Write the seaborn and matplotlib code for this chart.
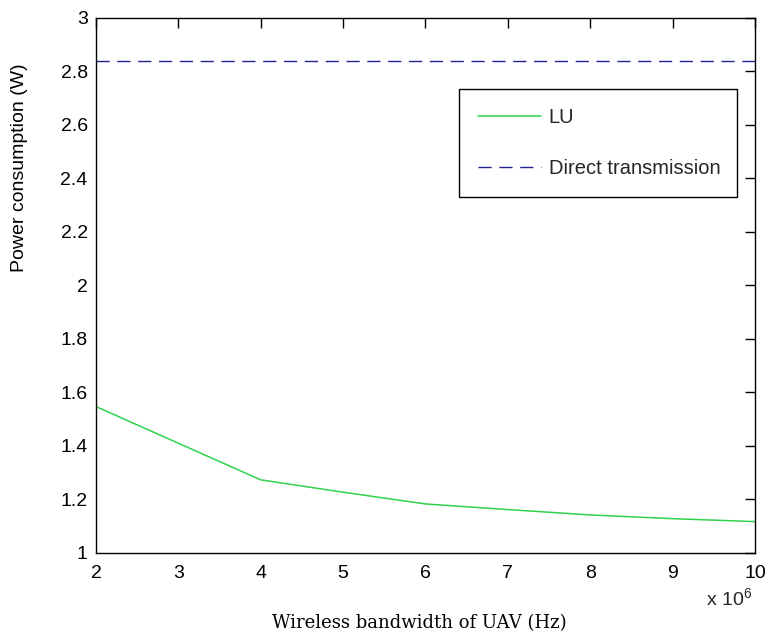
"""
Power consumption versus the UAV wireless bandwidth, LU against
direct transmission, in the old MATLAB figure look.
"""
import matplotlib

matplotlib.use("Agg")
import matplotlib.pyplot as plt
import pandas as pd
import seaborn as sns
from matplotlib.ticker import FuncFormatter, MultipleLocator

# data
bandwidth_hz = [2e6, 3e6, 4e6, 5e6, 6e6, 7e6, 8e6, 9e6, 10e6]
lu_power = [1.547, 1.41, 1.273, 1.227, 1.183, 1.162, 1.142, 1.128, 1.117]
direct_power = 2.839

GREEN = "#2fd24c"
NAVY = "#23238f"

sns.set_theme(style="white")
plt.rcParams["font.family"] = ["Liberation Sans", "DejaVu Sans"]
plt.rcParams["mathtext.default"] = "regular"

dataf = pd.DataFrame({"bandwidth": bandwidth_hz, "power": lu_power})

fig = plt.figure(figsize=(7.68, 6.37), dpi=100)
ax = fig.add_axes([0.125, 0.132, 0.858, 0.840])

sns.lineplot(data=dataf, x="bandwidth", y="power", ax=ax, color=GREEN,
             linewidth=1.1, label="LU")
ax.axhline(direct_power, color=NAVY, linewidth=1.0, dashes=(9.5, 5.5),
           label="Direct transmission")

ax.set_xlim(2e6, 10e6)
ax.set_ylim(1, 3)
ax.xaxis.set_major_locator(MultipleLocator(1e6))
ax.yaxis.set_major_locator(MultipleLocator(0.2))
ax.xaxis.set_major_formatter(FuncFormatter(lambda v, p: f"{v / 1e6:g}"))
ax.yaxis.set_major_formatter(FuncFormatter(lambda v, p: f"{v:g}"))

ax.tick_params(direction="in", length=7, width=1, colors="black",
               labelsize=14, top=True, right=True, pad=6)
ax.tick_params(axis="x", pad=9)
for spine in ax.spines.values():
    spine.set_color("black")
    spine.set_linewidth(1.0)

ax.set_ylabel("Power consumption (W)", fontsize=14, color="black")
ax.yaxis.set_label_coords(-0.103, 0.72)
ax.set_xlabel("Wireless bandwidth of UAV (Hz)", fontsize=13, color="black",
              family=["DejaVu Serif"])
ax.xaxis.set_label_coords(0.49, -0.115)
ax.text(0.925, -0.085, "x 10$^{6}$", transform=ax.transAxes, fontsize=14,
        ha="left", va="center")

leg = ax.legend(loc="upper left", bbox_to_anchor=(0.551, 0.664, 0.422, 0.203),
                mode="expand", borderaxespad=0, fontsize=14.5, handlelength=3.1,
                handletextpad=0.4, labelspacing=1.6, borderpad=0.95,
                fancybox=False, framealpha=1)
leg.get_frame().set_edgecolor("black")
leg.get_frame().set_linewidth(1.0)

fig.savefig("out.png", dpi=100)
